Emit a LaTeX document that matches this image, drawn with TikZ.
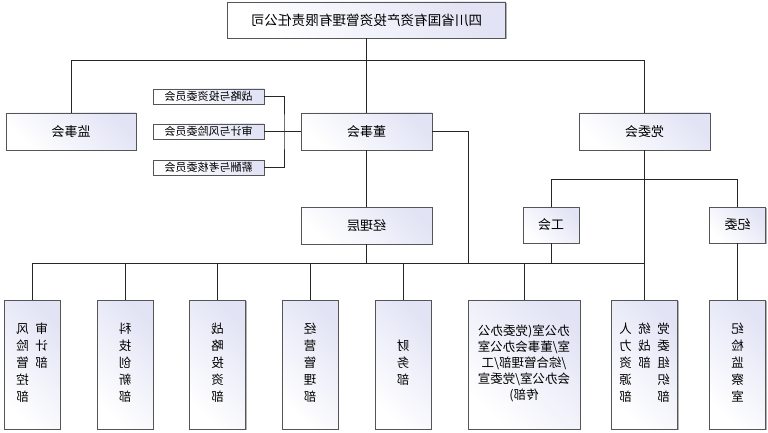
\documentclass[tikz,border=0pt]{standalone}
\usepackage{fontspec}
\usepackage{graphicx}
\newfontfamily\cjk{Noto Sans CJK SC}
\usetikzlibrary{shadows}
\definecolor{lav}{RGB}{226,228,245}
\definecolor{boxline}{RGB}{85,85,85}
\begin{document}
\begin{tikzpicture}[x=1pt,y=-1pt,
  box/.style={draw=boxline, line width=0.9pt, top color=lav, bottom color=white, shading angle=-45,
    inner sep=0pt, align=center,
    drop shadow={shadow xshift=1pt, shadow yshift=-1pt, fill=black, opacity=0.3}},
  big/.style={box, font=\cjk\fontsize{13}{15}\selectfont},
  com/.style={box, font=\cjk\fontsize{11}{13}\selectfont, minimum width=111, minimum height=15},
  dept/.style={box, font=\cjk\fontsize{12.5}{17}\selectfont, minimum height=129, minimum width=56},
  conn/.style={draw=black!85, line width=0.8pt}]
\useasboundingbox (0,0) rectangle (768,433);

% top level
\node[big, font=\cjk\fontsize{13.6}{15}\selectfont, minimum width=278, minimum height=36] (top) at (366.5,20) {\reflectbox{四川省国有资产投资管理有限责任公司}};
\node[big, minimum width=130, minimum height=37] (js) at (71,131.5) {\reflectbox{监事会}};
\node[big, minimum width=131, minimum height=37] (ds) at (366.5,131.5) {\reflectbox{董事会}};
\node[big, minimum width=131, minimum height=37] (dw) at (644.5,131.5) {\reflectbox{党委会}};

% committees
\node[com] (c1) at (208.5,96.5) {\reflectbox{战略与投资委员会}};
\node[com] (c2) at (208.5,131.5) {\reflectbox{审计与风险委员会}};
\node[com] (c3) at (208.5,167.5) {\reflectbox{薪酬与考核委员会}};

% second level
\node[big, minimum width=131, minimum height=37] (jl) at (366.5,225.5) {\reflectbox{经理层}};
\node[big, minimum width=56, minimum height=36] (gh) at (551,225) {\reflectbox{工会}};
\node[big, minimum width=56, minimum height=36] (jw) at (737.5,225) {\reflectbox{纪委}};

% departments
\node[dept] (b1) at (32,364.5) {\reflectbox{\begin{tabular}[t]{@{}c@{\hspace{6.5pt}}c@{}}审&风\\计&险\\部&管\\&控\\&部\end{tabular}}};
\node[dept] (b2) at (125,364.5) {\reflectbox{\begin{tabular}{@{}c@{}}科\\技\\创\\新\\部\end{tabular}}};
\node[dept] (b3) at (217.5,364.5) {\reflectbox{\begin{tabular}{@{}c@{}}战\\略\\投\\资\\部\end{tabular}}};
\node[dept] (b4) at (310,364.5) {\reflectbox{\begin{tabular}{@{}c@{}}经\\营\\管\\理\\部\end{tabular}}};
\node[dept] (b5) at (403,364.5) {\reflectbox{\begin{tabular}{@{}c@{}}财\\务\\部\end{tabular}}};
\node[dept, minimum width=112, font=\cjk\fontsize{12.5}{16}\selectfont] (b6) at (524,364.5) {\reflectbox{\begin{tabular}{@{}c@{}}办公室(党委办公\\室/董事会办公室\\/综合管理部/工\\会办公室/党委宣\\传部)\end{tabular}}};
\node[dept, minimum width=66] (b7) at (644.5,364.5) {\reflectbox{\begin{tabular}[t]{@{}c@{\hspace{6.5pt}}c@{\hspace{6.5pt}}c@{}}党&统&人\\委&战&力\\组&部&资\\织&&源\\部&&部\end{tabular}}};
\node[dept] (b8) at (737.5,364.5) {\reflectbox{\begin{tabular}{@{}c@{}}纪\\检\\监\\察\\室\end{tabular}}};

% connectors
\coordinate (y1) at (0,60);
\coordinate (y2) at (0,179.5);
\coordinate (yb) at (0,263);
\coordinate (cv) at (284,0);
\coordinate (rv) at (468,263);

\draw[conn] (top.south) -- (ds.north);
\draw[conn] (js.north) |- (dw.north |- y1) -- (dw.north);
\draw[conn] (c1.east) -| (cv |- c2.east) |- (c3.east);
\draw[conn] (c2.east) -- (ds.west);
\draw[conn] (ds.east) -| (rv);
\draw[conn] (ds.south) -- (jl.north);
\draw[conn] (jl.south) -- (jl.south |- yb);
\draw[conn] (b1.north |- yb) -- (dw.south |- yb);
\foreach \b in {b1,b2,b3,b4,b5,b6} {\draw[conn] (\b.north |- yb) -- (\b.north);}
\draw[conn] (dw.south) -- (b7.north);
\draw[conn] (gh.north) |- (jw.north |- y2) -- (jw.north);
\draw[conn] (gh.south) -- (gh.south |- yb);
\draw[conn] (jw.south) -- (b8.north);
\end{tikzpicture}
\end{document}
